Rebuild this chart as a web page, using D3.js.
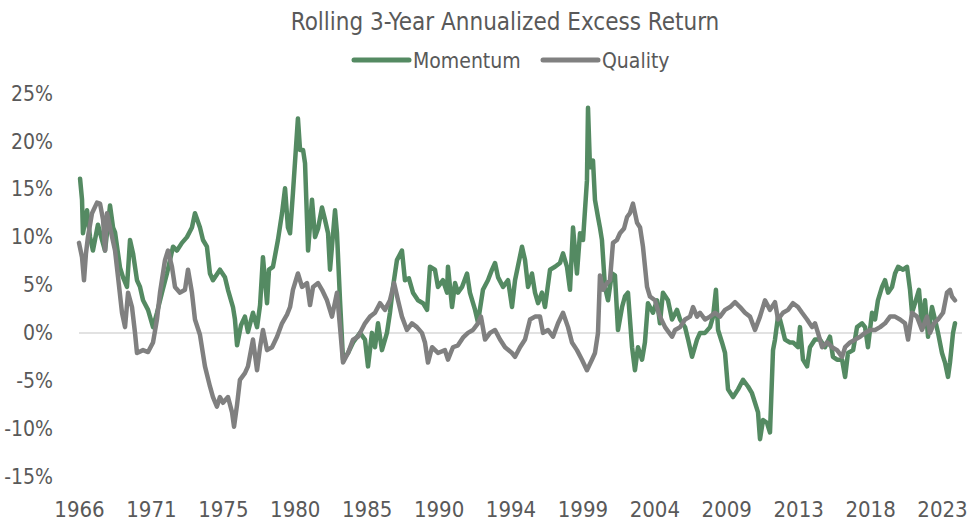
<!DOCTYPE html>
<html>
<head>
<meta charset="utf-8">
<script src="https://cdn.jsdelivr.net/npm/d3@7"></script>
<style>
  body { margin: 0; background: #fff; }
  text { font-family: "Liberation Sans Narrow", "DejaVu Sans Condensed", sans-serif; fill: #595959; }
</style>
</head>
<body>
<div id="chart"></div>
<script>
// series, decimal years vs. excess return (%)
var momYears = [1966.49,1966.62,1966.68,1966.95,1967.15,1967.34,1967.67,1967.94,1968.14,1968.47,1968.67,1968.80,1969.13,1969.33,1969.59,1969.79,1969.99,1970.25,1970.45,1970.65,1970.98,1971.31,1971.57,1971.90,1972.23,1972.63,1972.89,1973.22,1973.55,1973.88,1974.08,1974.41,1974.61,1974.87,1975.07,1975.27,1975.73,1976.06,1976.26,1976.59,1976.72,1976.86,1977.12,1977.38,1977.58,1977.91,1978.18,1978.38,1978.57,1978.84,1978.97,1979.23,1979.56,1979.83,1980.03,1980.22,1980.36,1980.55,1980.88,1981.02,1981.22,1981.35,1981.55,1981.81,1982.01,1982.21,1982.47,1982.67,1982.87,1983.00,1983.33,1983.46,1983.66,1983.86,1984.19,1984.52,1984.98,1985.31,1985.51,1985.77,1985.97,1986.17,1986.43,1986.76,1986.96,1987.16,1987.42,1987.75,1987.95,1988.21,1988.48,1988.81,1989.14,1989.41,1989.60,1989.93,1990.13,1990.46,1990.73,1990.79,1991.06,1991.26,1991.45,1991.72,1992.05,1992.24,1992.58,1992.77,1993.10,1993.43,1993.70,1993.90,1994.10,1994.43,1994.76,1995.02,1995.22,1995.68,1995.88,1996.08,1996.34,1996.54,1996.74,1997.00,1997.20,1997.53,1997.86,1998.19,1998.39,1998.65,1998.85,1999.05,1999.31,1999.51,1999.71,1999.97,2000.04,2000.17,2000.37,2000.50,2000.70,2000.83,2000.96,2001.16,2001.36,2001.62,2001.82,2002.02,2002.29,2002.48,2002.68,2002.95,2003.14,2003.34,2003.61,2003.80,2004.00,2004.33,2004.60,2004.79,2004.99,2005.32,2005.59,2005.92,2006.12,2006.45,2006.65,2006.91,2007.24,2007.44,2007.77,2008.10,2008.30,2008.49,2008.63,2008.89,2009.09,2009.29,2009.62,2009.95,2010.28,2010.61,2010.87,2011.07,2011.27,2011.40,2011.60,2011.86,2012.06,2012.26,2012.39,2012.59,2012.72,2012.85,2013.05,2013.38,2013.58,2013.91,2014.04,2014.24,2014.51,2014.70,2015.03,2015.37,2015.69,2016.02,2016.22,2016.49,2016.82,2017.02,2017.21,2017.55,2017.81,2018.14,2018.34,2018.53,2018.80,2019.00,2019.19,2019.46,2019.66,2019.86,2020.12,2020.32,2020.52,2020.85,2021.11,2021.31,2021.44,2021.64,2021.90,2022.10,2022.30,2022.50,2022.76,2022.96,2023.16,2023.42,2023.62,2023.82,2023.95,2024.15,2024.28];
var momValues = [16.1,13.9,10.4,12.8,10.0,8.6,11.3,9.7,8.6,13.3,11.0,10.5,6.8,5.8,4.8,9.7,8.3,5.5,4.8,3.4,2.4,0.6,2.1,4.2,6.2,9.0,8.6,9.4,10.0,11.0,12.5,11.0,9.7,9.0,6.2,5.5,6.6,5.8,4.5,2.7,1.4,-1.3,0.8,1.7,0.1,2.1,0.6,2.9,7.9,3.1,6.6,6.9,9.7,12.5,15.1,11.0,10.4,14.6,22.4,19.1,19.1,17.7,8.6,13.9,10.0,10.9,13.1,11.8,10.4,6.6,12.8,10.4,3.4,-2.8,-2.1,-1.0,0.0,-0.7,-3.5,0.0,-1.5,1.0,-1.8,0.0,2.1,4.8,7.6,8.6,5.5,5.7,4.2,3.4,3.1,2.4,6.9,6.6,4.8,5.5,4.2,6.9,2.7,5.2,4.2,4.8,6.2,4.2,2.4,1.1,4.5,5.5,6.6,7.3,5.8,4.8,5.5,2.7,5.5,9.0,7.6,4.8,6.2,4.2,3.1,4.2,2.7,6.6,6.9,7.3,8.3,6.9,4.5,11.0,6.2,10.4,9.7,15.9,23.5,17.3,18.0,13.9,12.1,11.0,9.7,4.8,3.4,6.2,6.0,0.3,2.7,3.8,4.2,-1.5,-3.9,-1.5,-2.8,-1.0,3.1,2.1,3.4,1.0,4.2,3.4,1.4,2.4,1.4,0.6,-0.7,-2.5,-0.7,0.0,0.0,0.6,1.7,4.5,0.3,-1.0,-2.1,-5.9,-6.7,-5.9,-4.9,-5.6,-6.3,-7.3,-8.3,-11.1,-9.1,-9.4,-10.4,-1.8,-0.7,1.7,1.4,0.6,-0.7,-1.0,-1.0,-1.5,0.6,-2.8,-3.5,-1.5,-0.7,-0.7,-1.5,-0.4,-2.5,-2.8,-2.8,-4.6,-2.1,-1.8,0.6,1.0,0.6,-1.5,2.1,1.4,3.4,4.8,5.5,4.2,4.8,6.2,6.9,6.6,6.9,4.5,2.1,3.1,4.5,0.6,3.4,-0.4,2.7,1.4,0.0,-2.1,-3.1,-4.6,-3.1,0.0,1.0];

var qualYears = [1966.42,1966.62,1966.75,1966.88,1967.01,1967.28,1967.61,1967.81,1968.01,1968.14,1968.27,1968.47,1968.80,1969.00,1969.26,1969.46,1969.66,1969.92,1970.12,1970.25,1970.65,1970.98,1971.31,1971.57,1971.77,1972.10,1972.30,1972.56,1972.76,1973.09,1973.42,1973.62,1973.88,1974.08,1974.41,1974.74,1975.07,1975.27,1975.53,1975.73,1975.93,1976.26,1976.53,1976.66,1976.86,1977.05,1977.38,1977.58,1977.91,1978.18,1978.38,1978.57,1978.84,1979.17,1979.50,1979.83,1980.16,1980.36,1980.55,1980.88,1981.15,1981.48,1981.68,1981.88,1982.21,1982.47,1982.80,1983.13,1983.46,1983.66,1983.86,1984.19,1984.52,1984.85,1985.31,1985.64,1985.97,1986.30,1986.63,1986.96,1987.23,1987.49,1987.75,1988.08,1988.41,1988.74,1989.07,1989.27,1989.47,1989.74,1990.13,1990.59,1990.79,1991.12,1991.45,1991.78,1992.11,1992.44,1992.77,1992.97,1993.24,1993.57,1993.90,1994.23,1994.56,1995.02,1995.22,1995.55,1995.88,1996.21,1996.54,1996.87,1997.07,1997.40,1997.73,1998.06,1998.39,1998.72,1998.98,1999.31,1999.64,1999.97,2000.30,2000.50,2000.70,2000.83,2001.03,2001.29,2001.49,2001.69,2001.95,2002.15,2002.42,2002.62,2002.81,2003.01,2003.28,2003.48,2003.67,2003.94,2004.13,2004.46,2004.79,2005.13,2005.59,2005.79,2006.12,2006.45,2006.78,2006.98,2007.24,2007.44,2007.77,2008.10,2008.43,2008.76,2009.09,2009.42,2009.75,2010.08,2010.41,2010.74,2011.07,2011.40,2011.73,2012.06,2012.39,2012.59,2012.92,2013.25,2013.58,2013.91,2014.18,2014.51,2014.84,2015.03,2015.23,2015.50,2015.83,2016.16,2016.49,2016.82,2017.02,2017.35,2017.68,2018.01,2018.34,2018.67,2019.00,2019.33,2019.66,2019.99,2020.32,2020.65,2020.98,2021.18,2021.44,2021.77,2022.10,2022.43,2022.63,2022.89,2023.16,2023.49,2023.75,2023.95,2024.08,2024.28];
var qualValues = [9.4,7.9,5.5,8.3,10.0,12.5,13.6,13.5,11.8,8.6,12.5,11.0,8.6,5.8,2.1,0.6,4.2,2.7,0.0,-2.1,-1.8,-2.0,-1.0,1.4,4.2,7.6,8.6,6.9,4.8,4.2,4.5,6.6,4.2,1.4,-0.2,-3.5,-5.6,-6.7,-7.7,-6.7,-7.3,-6.7,-8.3,-9.8,-7.5,-4.9,-4.2,-3.5,-0.7,-3.9,-1.5,0.3,-1.8,-1.5,-0.4,1.0,1.9,2.7,4.5,6.2,4.8,5.2,2.9,4.8,5.2,4.5,3.4,1.7,4.2,0.6,-3.1,-2.1,-0.7,-0.4,1.0,1.7,2.1,3.1,2.4,3.4,5.2,3.4,1.7,0.3,1.0,0.6,0.0,-1.0,-3.1,-1.5,-2.1,-1.8,-2.8,-1.5,-1.3,-0.5,0.0,0.3,1.0,1.7,-0.7,0.0,0.3,-0.7,-1.5,-2.1,-2.5,-1.5,-0.7,1.4,1.7,1.7,0.0,0.3,-0.4,1.0,2.1,0.6,-1.0,-1.8,-2.8,-3.9,-2.8,-2.1,0.0,6.0,4.5,5.2,5.5,9.4,9.7,10.4,10.9,12.1,12.5,13.5,11.5,11.0,9.0,4.8,3.8,3.4,1.7,0.6,-0.4,0.3,0.6,1.4,1.7,2.7,1.7,2.1,1.4,1.7,2.1,1.7,2.4,2.7,3.2,2.7,2.1,1.7,0.3,1.7,3.4,2.4,3.2,1.4,2.1,2.4,3.1,2.7,2.1,1.4,0.6,1.0,0.0,-1.5,-1.0,-1.5,-1.8,-2.5,-1.5,-1.0,-0.7,-0.4,0.0,0.3,0.3,0.6,1.0,1.7,1.7,1.4,1.0,-0.7,2.1,1.7,0.3,1.7,0.0,1.0,1.4,2.1,4.2,4.5,3.8,3.4];

// category labels as Excel placed them (every 57 months from Jun 1966)
var xTickYears = [1966.42,1971.17,1975.92,1980.67,1985.42,1990.17,1994.92,1999.67,2004.42,2009.17,2013.92,2018.67,2023.42];
var yTicks = [-15,-10,-5,0,5,10,15,20,25];
var seriesNames = ["Momentum", "Quality"];
var seriesColors = ["#548a62", "#808080"];

var width = 969, height = 523;

var svg = d3.select("#chart").append("svg")
    .attr("width", width)
    .attr("height", height);

var x = d3.scaleLinear()
    .domain([1966.42, 2024.28])
    .range([79, 955]);

var y = d3.scaleLinear()
    .domain([-15, 25])
    .range([476.5, 93.5]);

// title
svg.append("text")
    .attr("x", 505)
    .attr("y", 30)
    .attr("text-anchor", "middle")
    .style("font-size", "24px")
    .text("Rolling 3-Year Annualized Excess Return");

// legend
var legend = svg.append("g").attr("transform", "translate(354,60)");
var legX = [0, 189];
seriesNames.forEach(function(name, i) {
  legend.append("line")
      .attr("x1", legX[i]).attr("x2", legX[i] + 55)
      .attr("y1", 0).attr("y2", 0)
      .attr("stroke", seriesColors[i])
      .attr("stroke-width", 5)
      .attr("stroke-linecap", "round");
  legend.append("text")
      .attr("x", legX[i] + 59)
      .attr("y", 8)
      .style("font-size", "21px")
      .text(name);
});

// y axis (labels only)
var yAxis = d3.axisLeft(y)
    .tickValues(yTicks)
    .tickSize(0)
    .tickPadding(3)
    .tickFormat(function(d) { return d + "%"; });
svg.append("g")
    .attr("transform", "translate(56,0)")
    .call(yAxis)
    .call(function(g) { g.select(".domain").remove(); })
    .selectAll("text")
      .style("font-size", "21px")
      .attr("fill", "#595959");

// x axis (labels only)
var xAxis = d3.axisBottom(x)
    .tickValues(xTickYears)
    .tickSize(0)
    .tickPadding(0)
    .tickFormat(function(d) { return Math.floor(d); });
svg.append("g")
    .attr("transform", "translate(0,501)")
    .call(xAxis)
    .call(function(g) { g.select(".domain").remove(); })
    .selectAll("text")
      .style("font-size", "22px")
      .attr("fill", "#595959");

// zero line
svg.append("line")
    .attr("x1", 79).attr("x2", 962)
    .attr("y1", y(0)).attr("y2", y(0))
    .attr("stroke", "#d9d9d9")
    .attr("stroke-width", 1.5);

var line = d3.line()
    .x(function(d) { return x(d[0]); })
    .y(function(d) { return y(d[1]); });

var series = [
  d3.zip(momYears, momValues),
  d3.zip(qualYears, qualValues)
];

svg.selectAll("path.series")
    .data(series)
  .enter().append("path")
    .attr("class", "series")
    .attr("fill", "none")
    .attr("stroke", function(d, i) { return seriesColors[i]; })
    .attr("stroke-width", 4.5)
    .attr("stroke-linejoin", "round")
    .attr("stroke-linecap", "round")
    .attr("d", line);
</script>
</body>
</html>
